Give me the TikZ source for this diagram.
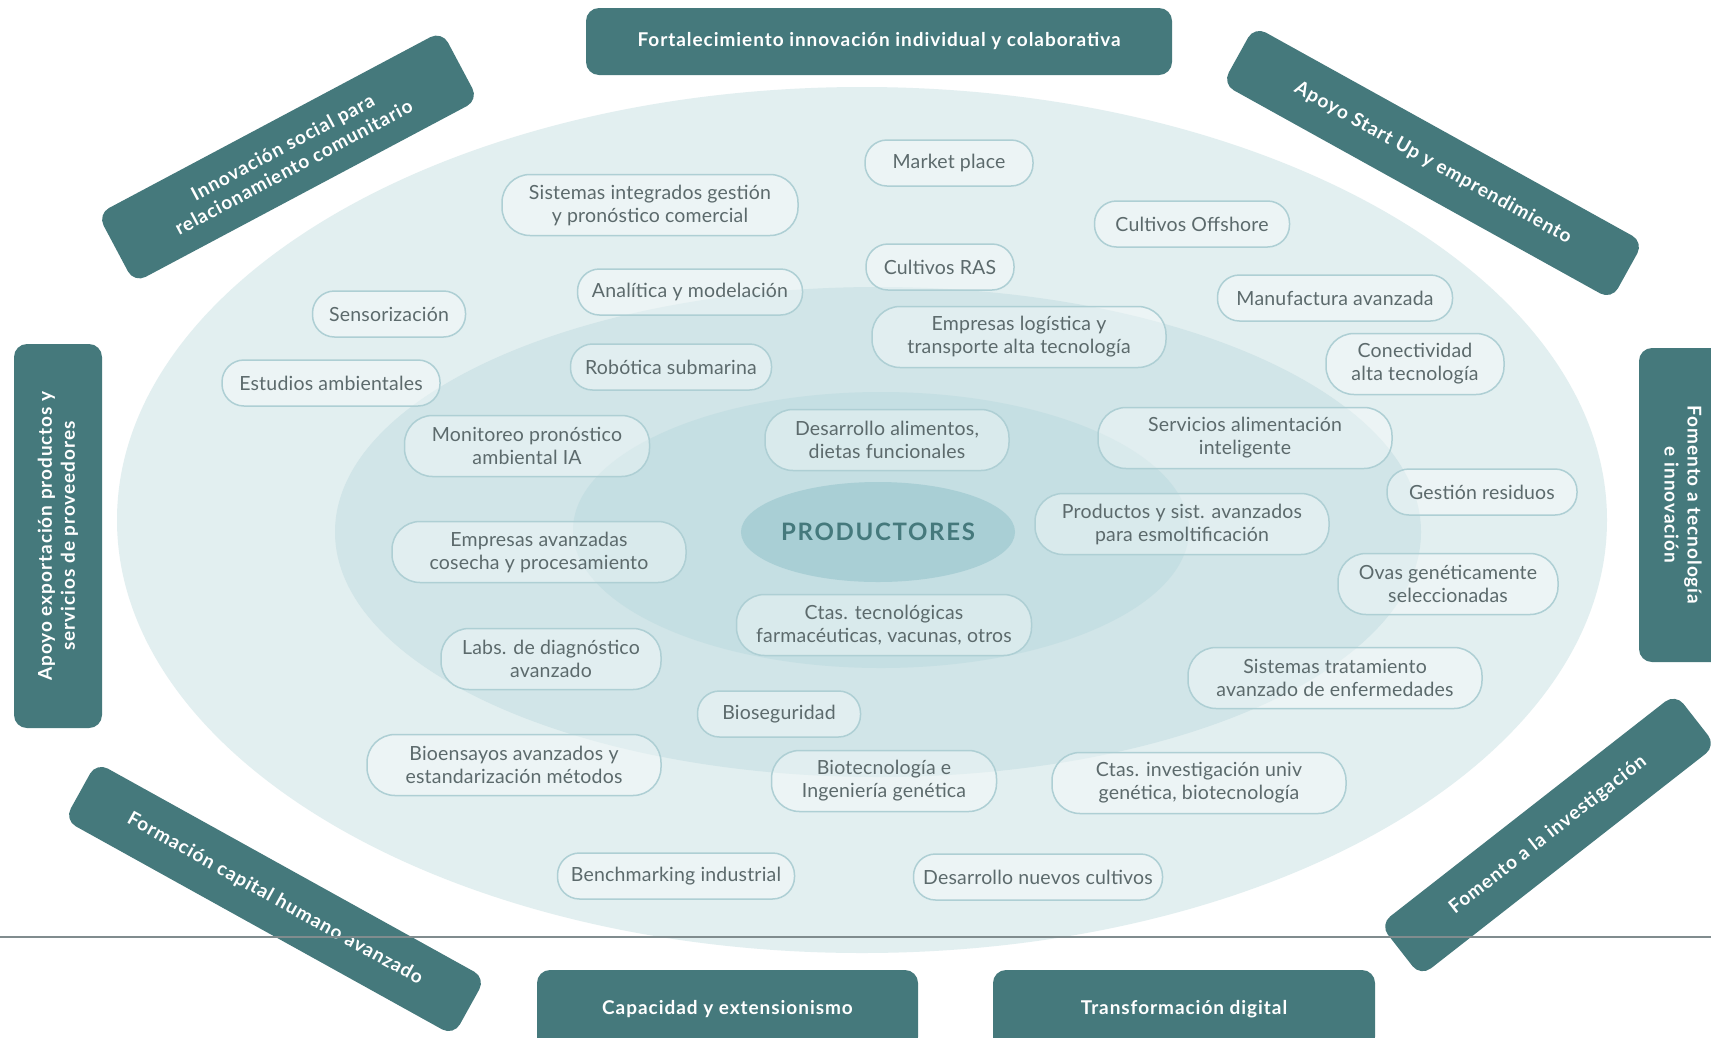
\documentclass[tikz,border=0pt]{standalone}
\usepackage{fontspec}
\setmainfont{Lato}
\newfontfamily\prodfamily[LetterSpace=7]{Lato}
\newfontfamily\boxfamily[LetterSpace=5]{Lato}
\newfontfamily\pillfamily[LetterSpace=1]{Lato}
\usetikzlibrary{shapes.geometric}
\definecolor{tealbox}{RGB}{69,121,124}
\definecolor{outerc}{RGB}{226,239,240}
\definecolor{middlec}{RGB}{209,229,232}
\definecolor{innerc}{RGB}{197,223,227}
\definecolor{prodc}{RGB}{169,207,213}
\definecolor{pillline}{RGB}{174,207,212}
\definecolor{pilltext}{RGB}{92,106,108}
\definecolor{linegray}{RGB}{128,140,142}
\newcommand{\pillfont}{\pillfamily\fontsize{19.5}{23}\selectfont}
\newcommand{\boxfont}{\boxfamily\fontsize{19}{23}\selectfont\bfseries}
\tikzset{
  pillbase/.style={draw=pillline, line width=1.5pt, fill=white, fill opacity=0.35,
    draw opacity=1, text opacity=1, align=center, text=pilltext, font=\pillfont,
    inner sep=0pt},
  pillone/.style={pillbase, minimum height=46pt, rounded corners=22pt},
  pilltwo/.style={pillbase, minimum height=61pt, rounded corners=28pt},
  darkbox/.style={fill=tealbox, rounded corners=13pt, text=white, font=\boxfont,
    align=center, inner sep=0pt},
}
\begin{document}
\begin{tikzpicture}[x=1pt,y=-1pt]
\useasboundingbox (0,0) rectangle (1711,1037);
\fill[white] (0,0) rectangle (1711,1037);
% rings
\fill[outerc] (862,520) ellipse [x radius=745pt, y radius=433pt];
\fill[middlec] (878,532) ellipse [x radius=543pt, y radius=245pt];
\fill[innerc] (881,530) ellipse [x radius=308pt, y radius=138pt];
\node[ellipse, fill=prodc, minimum width=266pt, minimum height=100pt, inner sep=0pt,
  text=tealbox, font=\prodfamily\fontsize{24}{28}\selectfont\bfseries] (prod) at (878,532) {PRODUCTORES};
% pills
\node[pillone, minimum width=168pt] (p1) at (949,163) {Market place};
\node[pilltwo, minimum width=296pt] (p2) at (650,205) {Sistemas integrados gestión\\y pronóstico comercial};
\node[pillone, minimum width=195pt] (p3) at (1192,224) {Cultivos Offshore};
\node[pillone, minimum width=148pt] (p4) at (940,267) {Cultivos RAS};
\node[pillone, minimum width=225pt] (p5) at (690,292) {Analítica y modelación};
\node[pillone, minimum width=153pt] (p6) at (389,314) {Sensorización};
\node[pillone, minimum width=235pt] (p7) at (1335,298) {Manufactura avanzada};
\node[pilltwo, minimum width=294pt] (p8) at (1019,337) {Empresas logística y\\transporte alta tecnología};
\node[pilltwo, minimum width=178pt] (p9) at (1415,364) {Conectividad\\alta tecnología};
\node[pillone, minimum width=218pt] (p10) at (331,383) {Estudios ambientales};
\node[pillone, minimum width=201pt] (p11) at (671,367) {Robótica submarina};
\node[pilltwo, minimum width=245pt] (p12) at (527,446) {Monitoreo pronóstico\\ambiental IA};
\node[pilltwo, minimum width=244pt] (p13) at (887,440) {Desarrollo alimentos,\\dietas funcionales};
\node[pilltwo, minimum width=294pt] (p14) at (1245,438) {Servicios alimentación\\inteligente};
\node[pillone, minimum width=190pt] (p15) at (1482,492) {Gestión residuos};
\node[pilltwo, minimum width=294pt] (p16) at (1182,524) {Productos y sist. avanzados\\para esmoltificación};
\node[pilltwo, minimum width=294pt] (p17) at (539,552) {Empresas avanzadas\\cosecha y procesamiento};
\node[pilltwo, minimum width=220pt] (p18) at (1448,584) {Ovas genéticamente\\seleccionadas};
\node[pilltwo, minimum width=295pt] (p19) at (884,625) {Ctas. tecnológicas\\farmacéuticas, vacunas, otros};
\node[pilltwo, minimum width=220pt] (p20) at (551,659) {Labs. de diagnóstico\\avanzado};
\node[pilltwo, minimum width=294pt] (p21) at (1335,678) {Sistemas tratamiento\\avanzado de enfermedades};
\node[pillone, minimum width=163pt] (p22) at (779,714) {Bioseguridad};
\node[pilltwo, minimum width=294pt] (p23) at (514,765) {Bioensayos avanzados y\\estandarización métodos};
\node[pilltwo, minimum width=225pt] (p24) at (884,781) {Biotecnología e\\Ingeniería genética};
\node[pilltwo, minimum width=294pt] (p25) at (1199,783) {Ctas. investigación univ\\genética, biotecnología};
\node[pillone, minimum width=237pt] (p26) at (676,876) {Benchmarking industrial};
\node[pillone, minimum width=249pt] (p27) at (1038,877) {Desarrollo nuevos cultivos};
% dark boxes
\node[darkbox, minimum width=586pt, minimum height=67pt] (b1) at (879,41.5) {Fortalecimiento innovación individual y colaborativa};
\node[darkbox, minimum width=445pt, minimum height=66pt, rotate=-29] (b2) at (1433,163) {Apoyo Start Up y emprendimiento};
\node[darkbox, minimum width=314pt, minimum height=88pt, rotate=-90] (b3) at (1683,505) {Fomento a tecnología\\e innovación};
\node[darkbox, minimum width=375pt, minimum height=66pt, rotate=38] (b4) at (1548,835) {Fomento a la investigación};
\node[darkbox, minimum width=382pt, minimum height=80pt] (b5) at (1184,1010) {\raisebox{6pt}{Transformación digital}};
\node[darkbox, minimum width=381pt, minimum height=80pt] (b6) at (727.5,1010) {\raisebox{6pt}{Capacidad y extensionismo}};
\node[darkbox, minimum width=445pt, minimum height=66pt, rotate=-29] (b7) at (275,899) {Formación capital humano avanzado};
\node[darkbox, minimum width=384pt, minimum height=88pt, rotate=90] (b8) at (58,536) {Apoyo exportación productos y\\servicios de proveedores};
\node[darkbox, minimum width=390pt, minimum height=78pt, rotate=28] (b9) at (288,157) {Innovación social para\\relacionamiento comunitario};
% rule line
\coordinate (L1) at (0,937);
\coordinate (L2) at (1711,937);
\draw[linegray, line width=1.2pt] (L1) -- (L2);
\end{tikzpicture}
\end{document}
